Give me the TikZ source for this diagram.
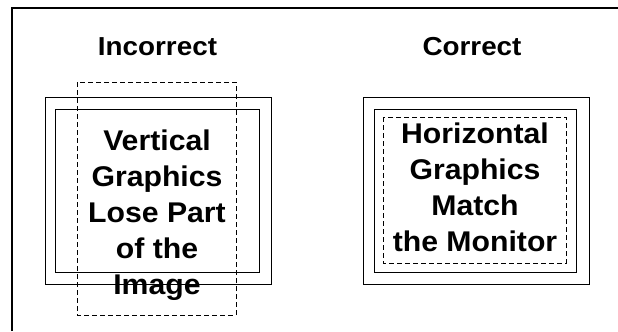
\documentclass[tikz,border=0pt]{standalone}
\usepackage{fontspec}
\setmainfont{Liberation Sans}
\newfontfamily\headfont[FakeStretch=1.07]{Liberation Sans}
\newfontfamily\bodyfont[FakeStretch=1.06]{Liberation Sans}
\begin{document}
\begin{tikzpicture}[x=1bp,y=-1bp,
  frameline/.style={line width=1.5bp},
  screen/.style={line width=0.9bp},
  image/.style={line width=0.9bp, dash pattern=on 5bp off 3bp},
  heading/.style={anchor=base, inner sep=0pt, font=\headfont\bfseries\fontsize{26bp}{30bp}\selectfont},
  caption/.style={align=center, inner sep=0pt, font=\bodyfont\bfseries\fontsize{28.5bp}{36bp}\selectfont}]
\useasboundingbox (0,0) rectangle (618,331);

% open frame: left and top edges
\draw[frameline] (12,331) -- (12,8) -- (618,8);

% left panel: monitor with a tall image that overflows it
\draw[screen] (45,97) rectangle (271,284);
\draw[screen] (55,109) rectangle (259,272);
\draw[image] (77,82) rectangle (236,315);
\node[heading] (incorrect) at (157.5,55) {Incorrect};
\node[caption] (vertical) at (157,215) {Vertical\\Graphics\\Lose Part\\of the\\Image};

% right panel: monitor with a wide image that fits inside it
\draw[screen] (363,97) rectangle (589,284);
\draw[screen] (374,109) rectangle (576,272);
\draw[image] (383,117) rectangle (566,263);
\node[heading] (correct) at (472,55) {Correct};
\node[caption] (horizontal) at (475,187.5) {Horizontal\\Graphics\\Match\\the Monitor};
\end{tikzpicture}
\end{document}
